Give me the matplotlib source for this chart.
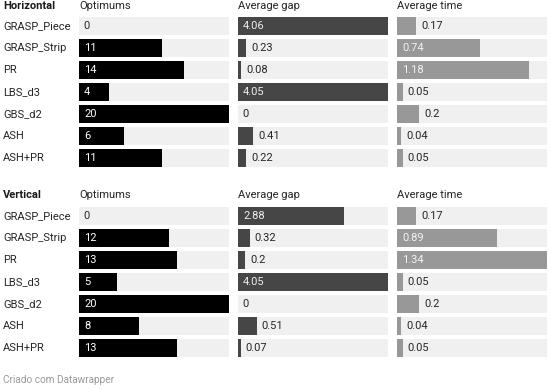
import matplotlib
matplotlib.use("Agg")
import matplotlib.pyplot as plt

plt.rcParams['font.family'] = ['Roboto', 'DejaVu Sans']

methods = ["GRASP_Piece", "GRASP_Strip", "PR", "LBS_d3", "GBS_d2", "ASH", "ASH+PR"]
columns = ["Optimums", "Average gap", "Average time"]
groups = ["Horizontal", "Vertical"]

h_optimums = [0, 11, 14, 4, 20, 6, 11]
h_gap = [4.06, 0.23, 0.08, 4.05, 0, 0.41, 0.22]
h_time = [0.17, 0.74, 1.18, 0.05, 0.2, 0.04, 0.05]

v_optimums = [0, 12, 13, 5, 20, 8, 13]
v_gap = [2.88, 0.32, 0.2, 4.05, 0, 0.51, 0.07]
v_time = [0.17, 0.89, 1.34, 0.05, 0.2, 0.04, 0.05]

labels_fmt = ["{:g}", "{:g}", "{:g}"]
data = {"Horizontal": [h_optimums, h_gap, h_time],
        "Vertical": [v_optimums, v_gap, v_time]}

W, H = 550, 389
fig = plt.figure(figsize=(W / 100, H / 100), dpi=100)

bar_colors = ["#000000", "#464646", "#989898"]
inside_text = ["#ffffff", "#eeeeee", "#f2f2f2"]
bg_color = "#f0f0f0"
text_color = "#262626"

col_x = [79, 238, 397]
col_w = 150
row_h = 22
bar_h = 18
group_top = {"Horizontal": 15, "Vertical": 205}
header_y = {"Horizontal": 6, "Vertical": 195}
fs = 8.0

# shared scales across groups
col_max = [max(max(data[g][c]) for g in groups) for c in range(3)]


def fx(px):
    return px / W


def fy(py):
    return 1 - py / H


for g in groups:
    top = group_top[g]
    n = len(methods)
    ax_h = n * row_h
    fig.text(fx(3), fy(header_y[g]), g, fontsize=fs, fontweight='bold',
             color='#1a1a1a', va='center', ha='left')
    for i, m in enumerate(methods):
        fig.text(fx(3), fy(top + row_h * i + row_h / 2), m, fontsize=fs,
                 color=text_color, va='center', ha='left')
    for c in range(3):
        fig.text(fx(col_x[c]), fy(header_y[g]), columns[c], fontsize=fs,
                 color=text_color, va='center', ha='left')
        ax = fig.add_axes([fx(col_x[c]), fy(top + ax_h), col_w / W, ax_h / H])
        vals = data[g][c]
        vmax = col_max[c]
        ypos = list(range(n))
        ax.barh(ypos, [vmax] * n, height=bar_h / row_h, color=bg_color, left=0)
        ax.barh(ypos, vals, height=bar_h / row_h, color=bar_colors[c], left=0)
        ax.set_xlim(0, vmax)
        ax.set_ylim(n - 0.5, -0.5)
        ax.axis('off')
        px_per_unit = col_w / vmax
        for i, v in enumerate(vals):
            bw = v * px_per_unit
            s = labels_fmt[c].format(v)
            if bw >= 28:
                ax.text(5 / px_per_unit, i, s, fontsize=fs, color=inside_text[c],
                        va='center', ha='left')
            else:
                xoff = bw + (5 if v > 0 else 4)
                ax.text(xoff / px_per_unit, i, s, fontsize=fs, color=text_color,
                        va='center', ha='left')

fig.text(fx(3), fy(380), "Criado com Datawrapper", fontsize=7.2, color='#999999',
         va='center', ha='left')

fig.savefig("out.png", dpi=100)
